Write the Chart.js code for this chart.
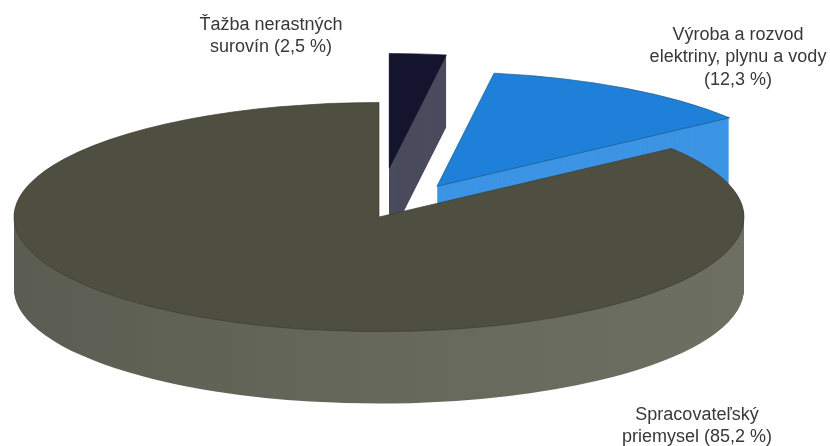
<!DOCTYPE html>
<html>
<head>
<meta charset="utf-8">
<script src="https://cdn.jsdelivr.net/npm/chart.js@4"></script>
<style>
html, body { margin: 0; padding: 0; background: #fff; }
canvas { display: block; }
</style>
</head>
<body>
<canvas id="myChart" width="830" height="446"></canvas>
<script>
// podiel odvetvi, poradie ide v smere hodin od vrchu
const categories = ["Ťažba nerastných surovín", "Výroba a rozvod elektriny, plynu a vody", "Spracovateľský priemysel"];
const values = [2.5, 12.3, 85.2];
const labelLines = [
    ["Ťažba nerastných", "surovín (2,5 %)"],
    ["Výroba a rozvod", "elektriny, plynu a vody", "(12,3 %)"],
    ["Spracovateľský", "priemysel (85,2 %)"]
];

const topColors = ["#14142e", "#1f80da", "#4e4f41"];
const sideColors = ["#4b4b5e", "#3d94e4", "#6a6b5f"];
const edgeColors = ["#14142e", "#14557f", "#3a3b30"];
// vysunutie vyrezov v smere ich stredu, offset z chart.js meni aj tvar vyrezu
const explode = [156, 114, 0];
const nudgeX = [-2, -1, 0];
const labelPos = [[271, 25], [738, 35], [697, 415]];

const radius = 365;
const tilt = 0.314;
const depth = 72;
const lineGap = 22.5;

const pie3d = {
    id: "pie3d",
    beforeDatasetsDraw(chart) {
        const ctx = chart.ctx;
        const arcs = chart.getDatasetMeta(0).data;
        const cy = arcs[0].y;
        const sideShade = ctx.createLinearGradient(14, 0, 744, 0);
        sideShade.addColorStop(0, "#5c5d52");
        sideShade.addColorStop(0.5, "#67685c");
        sideShade.addColorStop(1, "#6e6f63");

        const drawAt = (arc, i, d) => {
            const mid = (arc.startAngle + arc.endAngle) / 2;
            ctx.save();
            ctx.translate(nudgeX[i], cy + d);
            ctx.scale(1, tilt);
            ctx.translate(Math.cos(mid) * explode[i], Math.sin(mid) * explode[i] - cy);
            arc.draw(ctx);
            ctx.restore();
        };

        arcs.forEach((arc, i) => {
            const base = arc.options;
            const side = i === 2 ? sideShade : sideColors[i];
            // steny vyrezu, od spodku nahor
            arc.options = Object.assign(Object.create(base), { backgroundColor: side, borderWidth: 0 });
            for (let d = depth; d > 0; d--) {
                drawAt(arc, i, d);
            }
            arc.options = base;
            drawAt(arc, i, 0);
        });
        return false;
    },
    afterDraw(chart) {
        const ctx = chart.ctx;
        ctx.save();
        ctx.font = "18px 'Liberation Sans'";
        ctx.fillStyle = "#383838";
        ctx.textAlign = "center";
        ctx.textBaseline = "middle";
        labelLines.forEach((lines, i) => {
            lines.forEach((line, j) => {
                ctx.fillText(line, labelPos[i][0], labelPos[i][1] + j * lineGap);
            });
        });
        ctx.restore();
    }
};

new Chart(document.getElementById("myChart"), {
    type: "pie",
    data: {
        labels: categories,
        datasets: [{
            data: values,
            backgroundColor: topColors,
            borderColor: edgeColors,
            borderWidth: 1
        }]
    },
    options: {
        responsive: false,
        animation: false,
        radius: radius,
        layout: { padding: { right: 72, bottom: 12 } },
        plugins: { legend: { display: false }, tooltip: { enabled: false } }
    },
    plugins: [pie3d]
});
</script>
</body>
</html>
